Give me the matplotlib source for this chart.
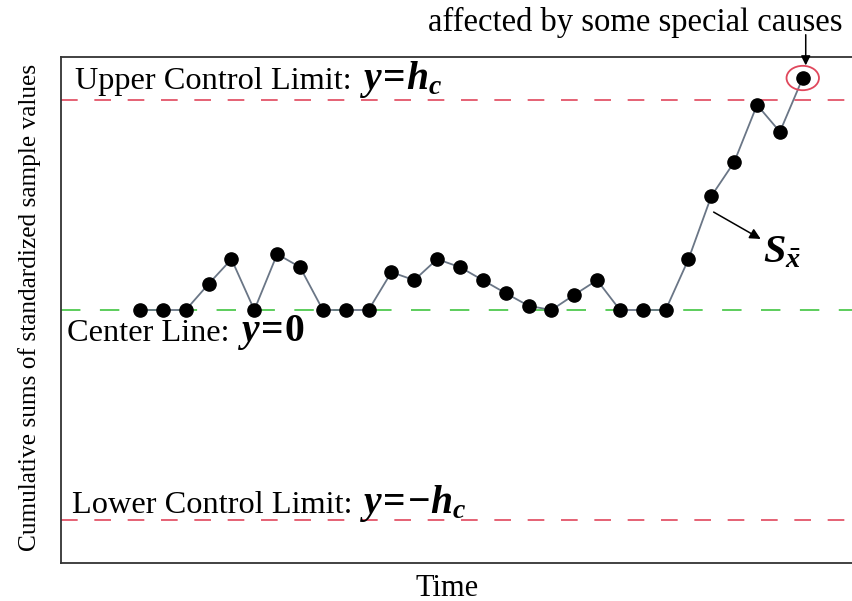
import matplotlib
matplotlib.use("Agg")
import matplotlib.pyplot as plt
from matplotlib.patches import Ellipse

# CUSUM statistic for each sample (h_c = 5)
samples = list(range(1, 31))
cusum = [0, 0, 0, 0.62, 1.21, 0, 1.33, 1.02, 0, 0,
         0, 0.90, 0.71, 1.21, 1.02, 0.71, 0.40, 0.10, 0, 0.36,
         0.71, 0, 0, 0, 1.21, 2.71, 3.52, 4.88, 4.24, 5.52]
h_c = 5.0
center = 0.0

plt.rcParams['font.family'] = ['Liberation Serif', 'DejaVu Serif']
plt.rcParams['mathtext.fontset'] = 'custom'
plt.rcParams['mathtext.rm'] = 'Liberation Serif:bold'
plt.rcParams['mathtext.it'] = 'Liberation Serif:italic:bold'
plt.rcParams['mathtext.bf'] = 'Liberation Serif:bold'

W, H = 853, 601
fig = plt.figure(figsize=(W / 100, H / 100), dpi=100)
ax = fig.add_axes([61 / W, 1 - 563 / H, (856 - 61) / W, (563 - 57) / H])
ax.set_xlim(-2.46, 32.33)
ax.set_ylim(-6.02, 6.02)
ax.set_xticks([])
ax.set_yticks([])
for side in ('left', 'top', 'bottom', 'right'):
    ax.spines[side].set_color('#333333')
    ax.spines[side].set_linewidth(1.3)

red = '#e0475c'
green = '#5ccd5c'

# control limits and center line
ax.axhline(h_c, color=red, lw=1.2, dashes=(10, 10), zorder=1)
ax.axhline(-h_c, color=red, lw=1.2, dashes=(10, 10), zorder=1)
ax.axhline(center, color=green, lw=1.4, dashes=(10, 10), zorder=1)

# CUSUM path
ax.plot(samples, cusum, color='#6a7686', lw=1.3, zorder=2)
ax.plot(samples, cusum, 'o', color='black', ms=9.5, zorder=3)

# out-of-control point
last_x, last_y = samples[-1], cusum[-1]
ax.add_patch(Ellipse((last_x, last_y), width=1.42, height=0.58,
                     fill=False, ec=red, lw=1.3, zorder=4))
ax.annotate('', xy=(last_x + 0.13, last_y + 0.30), xytext=(last_x + 0.13, 6.55),
            xycoords='data', textcoords='data', annotation_clip=False,
            arrowprops=dict(arrowstyle='-|>', color='black', lw=1.1,
                            mutation_scale=14, shrinkA=0, shrinkB=0))
fig.text(428 / W, 1 - 31 / H, 'affected by some special causes',
         fontsize=23.5, va='baseline', ha='left')

# S_x label with pointer
ax.annotate('', xy=(28.16, 1.69), xytext=(26.1, 2.33),
            arrowprops=dict(arrowstyle='-|>', color='black', lw=1.1,
                            mutation_scale=16, shrinkA=0, shrinkB=0))
fig.text(763 / W, 1 - 262 / H, r'$S_{\bar{x}}$', fontsize=29,
         va='baseline', ha='left')

# limit labels: plain part followed by bold-italic formula
labels = [
    (75, 89, 'Upper Control Limit:', r'$y\!=\!h_c$'),
    (67, 341, 'Center Line:', r'$y\!=\!0$'),
    (72, 513, 'Lower Control Limit:', r'$y\!=\!\!-\!h_c$'),
]
plain = []
for x, y, txt, math in labels:
    t = fig.text(x / W, 1 - y / H, txt, fontsize=23.3, va='baseline', ha='left')
    plain.append((t, y, math))

fig.canvas.draw()
renderer = fig.canvas.get_renderer()
for t, y, math in plain:
    bb = t.get_window_extent(renderer)
    fig.text((bb.x1 + 8) / W, 1 - y / H, math, fontsize=28.5,
             va='baseline', ha='left')

# axis titles
fig.text(30 / W, 1 - 307 / H, 'Cumulative sums of standardized sample values',
         fontsize=18.3, rotation=90, ha='center', va='center')
fig.text(447 / W, 1 - 588 / H, 'Time', fontsize=22, ha='center', va='center')

fig.savefig('out.png', dpi=100)
